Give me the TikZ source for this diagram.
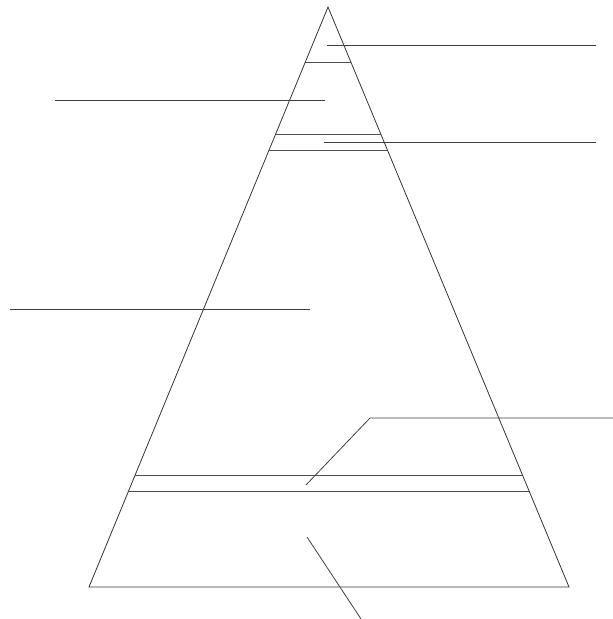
\documentclass[tikz,border=0pt]{standalone}
\usepackage{tikz}
\usetikzlibrary{calc}
\tikzset{
  pyrline/.style={draw=black!80, line width=0.8pt, line join=miter},
  bandline/.style={draw=black!70, line width=0.8pt},
  leader/.style={draw=black!75, line width=0.8pt},
}
\begin{document}
\begin{tikzpicture}[x=1pt, y=-1pt]
  \useasboundingbox (0,0) rectangle (613,619);
  % pyramid outline
  \coordinate (top) at (328,7);
  \coordinate (bl) at (89,587);
  \coordinate (br) at (569,587);
  \draw[pyrline] (top)--(bl)--(br)--cycle;
  % bands across the pyramid
  \foreach \t/\n in {0.095/bA, 0.219/bB, 0.248/bC, 0.807/bD, 0.836/bE}
    \draw[bandline] ($(top)!\t!(bl)$) coordinate (\n l) -- ($(top)!\t!(br)$) coordinate (\n r);
  % leader lines
  \coordinate (la1) at (327,45);  \coordinate (la2) at (596,45);
  \coordinate (lb1) at (55,100);  \coordinate (lb2) at (325,100);
  \coordinate (lc1) at (324,142); \coordinate (lc2) at (596,142);
  \coordinate (ld1) at (10,309);  \coordinate (ld2) at (310,309);
  \coordinate (le1) at (306,485); \coordinate (le2) at (370,418); \coordinate (le3) at (613,418);
  \coordinate (lf1) at (307,537); \coordinate (lf2) at (361,619);
  \foreach \i/\j in {la1/la2,lb1/lb2,lc1/lc2,ld1/ld2,lf1/lf2} \draw[leader] (\i)--(\j);
  \draw[leader] (le1)--(le2)--(le3);
\end{tikzpicture}
\end{document}
